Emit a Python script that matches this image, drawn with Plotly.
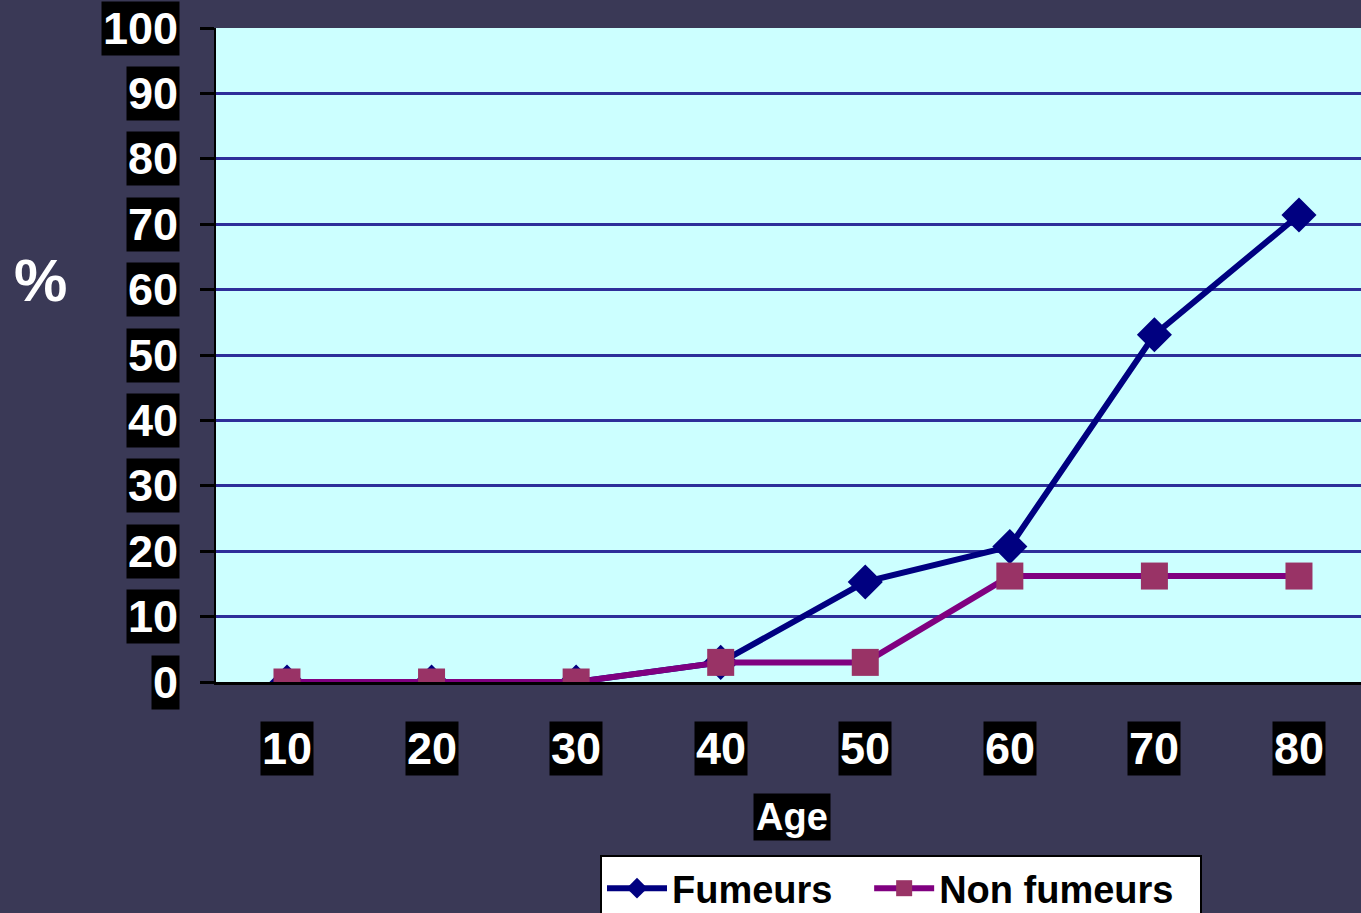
import plotly.graph_objects as go

ages = [10, 20, 30, 40, 50, 60, 70, 80]
fumeurs = [0, 0, 0, 3, 15.3, 20.7, 53.1, 71.4]
non_fumeurs = [0, 0, 0, 3, 3, 16.2, 16.2, 16.2]
y_ticks = [0, 10, 20, 30, 40, 50, 60, 70, 80, 90, 100]

BG = "#3a3956"
FONT = "Liberation Sans, Arial, sans-serif"
NB = "\u00a0"

fig = go.Figure()
fig.add_trace(
    go.Scatter(
        x=ages,
        y=fumeurs,
        name="Fumeurs" + NB * 3,
        mode="lines+markers",
        line=dict(color="#000080", width=6),
        marker=dict(symbol="diamond", size=27, color="#000080"),
    )
)
fig.add_trace(
    go.Scatter(
        x=ages,
        y=non_fumeurs,
        name="Non fumeurs" + NB * 2,
        mode="lines+markers",
        line=dict(color="#800080", width=6),
        marker=dict(symbol="square", size=27, color="#993366"),
    )
)

annotations = []
for v in y_ticks:
    annotations.append(
        dict(
            x=-0.0314, xref="paper", y=v, yref="y",
            text=str(v), showarrow=False, xanchor="right", yanchor="middle",
            bgcolor="black", borderpad=1,
            font=dict(family=FONT, size=45, color="white", weight="bold"),
        )
    )
for a in ages:
    annotations.append(
        dict(
            x=a, xref="x", y=-0.1024, yref="paper",
            text=str(a), showarrow=False, xanchor="center", yanchor="middle",
            bgcolor="black", borderpad=1,
            font=dict(family=FONT, size=45, color="white", weight="bold"),
        )
    )
annotations.append(
    dict(
        x=(792 - 216) / 1145, xref="paper", y=(682 - 817) / 654, yref="paper",
        text="Age", showarrow=False, xanchor="center", yanchor="middle",
        bgcolor="black", borderpad=2,
        font=dict(family=FONT, size=38, color="white", weight="bold"),
    )
)
annotations.append(
    dict(
        x=(40 - 216) / 1145, xref="paper", y=(682 - 280) / 654, yref="paper",
        text="%", showarrow=False, xanchor="center", yanchor="middle",
        font=dict(family=FONT, size=60, color="white", weight="bold"),
    )
)

fig.update_layout(
    width=1361,
    height=913,
    paper_bgcolor=BG,
    plot_bgcolor="#ccffff",
    margin=dict(l=216, r=0, t=28, b=231),
    showlegend=True,
    legend=dict(
        orientation="h",
        xref="container",
        yref="container",
        x=600 / 1361,
        y=1 - 855 / 913,
        xanchor="left",
        yanchor="top",
        bgcolor="white",
        bordercolor="black",
        borderwidth=2,
        font=dict(family=FONT, size=38, color="black", weight="bold"),
        itemwidth=60,
    ),
    annotations=annotations,
    xaxis=dict(
        range=[5.09, 84.29],
        tickvals=ages,
        showticklabels=False,
        showgrid=False,
        showline=True,
        linecolor="black",
        linewidth=3,
        ticks="",
        zeroline=False,
    ),
    yaxis=dict(
        range=[0, 100],
        tickvals=y_ticks,
        showticklabels=False,
        showgrid=True,
        gridcolor="#2e2e99",
        gridwidth=2.5,
        showline=True,
        linecolor="black",
        linewidth=2,
        ticks="outside",
        ticklen=14,
        tickwidth=3,
        tickcolor="black",
        zeroline=False,
    ),
)

fig.write_html(
    "out.html",
    config={"displayModeBar": False},
    post_script="document.body.style.margin='0';document.body.style.background='%s';" % BG,
)
